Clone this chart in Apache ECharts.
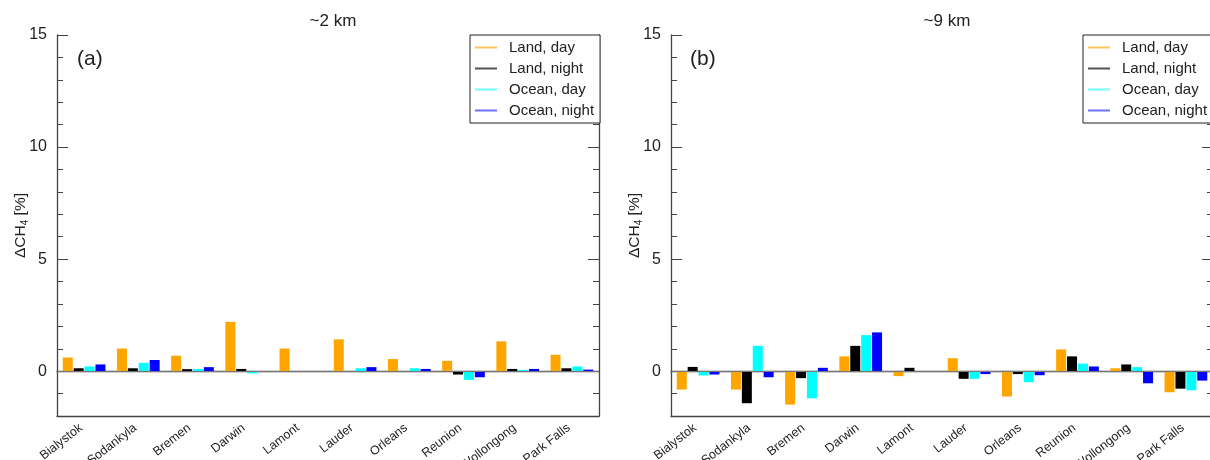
<!DOCTYPE html>
<html lang="en">
<head>
    <meta charset="UTF-8">
    <title>CH4 difference</title>
    <script type="text/javascript" src="https://cdn.jsdelivr.net/npm/echarts@6.0.0/dist/echarts.min.js"></script>
    <style>
        html, body { margin: 0; padding: 0; background: #fff; }
        #main { width: 1210px; height: 460px; }
    </style>
</head>
<body>
<div id="main"></div>
<script type="text/javascript">

    // stations on the x axis
    var stations = ['Bialystok', 'Sodankyla', 'Bremen', 'Darwin', 'Lamont', 'Lauder', 'Orleans', 'Reunion', 'Wollongong', 'Park Falls'];
    var seriesNames = ['Land, day', 'Land, night', 'Ocean, day', 'Ocean, night'];
    var yMajorTicks = [0, 5, 10, 15];

    // (a) ~2 km
    var aLandDay = [0.61, 1.01, 0.69, 2.2, 1.01, 1.42, 0.54, 0.46, 1.33, 0.73];
    var aLandNight = [0.13, 0.13, 0.09, 0.1, null, null, null, -0.15, 0.1, 0.13];
    var aOceanDay = [0.21, 0.37, 0.1, -0.1, null, 0.13, 0.13, -0.39, 0.06, 0.21];
    var aOceanNight = [0.3, 0.5, 0.18, null, null, 0.18, 0.1, -0.27, 0.1, 0.07];

    // (b) ~9 km
    var bLandDay = [-0.82, -0.82, -1.49, 0.66, -0.22, 0.58, -1.13, 0.97, 0.13, -0.94];
    var bLandNight = [0.19, -1.43, -0.31, 1.13, 0.15, -0.34, -0.13, 0.66, 0.3, -0.78];
    var bOceanDay = [-0.19, 1.13, -1.21, 1.61, null, -0.34, -0.49, 0.34, 0.18, -0.85];
    var bOceanNight = [-0.15, -0.27, 0.15, 1.73, null, -0.13, -0.18, 0.21, -0.54, -0.42];

    var barColors = ['#FFA500', '#000000', '#00FFFF', '#0000FF'];
    var legendColors = ['#FFC55A', '#555555', '#70FFFF', '#7070FF'];

    var fontName = '"Liberation Sans", Arial, Helvetica, sans-serif';
    var frameColor = '#444';

    function xAxes(gridIndex) {
        return [{
            type: 'category',
            gridIndex: gridIndex,
            data: stations,
            position: 'bottom',
            axisLine: {onZero: false, lineStyle: {color: frameColor, width: 1.3}},
            axisTick: {show: false},
            axisLabel: {
                rotate: 38,
                margin: 8,
                padding: [0, 4, 0, 0],
                fontSize: 12.5,
                color: '#222',
                fontFamily: fontName,
                interval: 0
            }
        }, {
            // top frame line
            type: 'category',
            gridIndex: gridIndex,
            data: stations,
            position: 'top',
            axisLine: {lineStyle: {color: frameColor, width: 1.3}},
            axisTick: {show: false},
            axisLabel: {show: false}
        }];
    }

    function yAxes(gridIndex, nameGap) {
        var base = {
            type: 'value',
            gridIndex: gridIndex,
            min: -2,
            max: 15,
            interval: 1,
            splitLine: {show: false}
        };
        return [
            // left, labels + minor ticks
            Object.assign({}, base, {
                position: 'left',
                name: '{a|\u0394CH}{s|4}{a| [%]}',
                nameLocation: 'middle',
                nameGap: nameGap,
                nameMoveOverlap: false,
                nameRotate: 90,
                nameTextStyle: {
                    rich: {
                        a: {fontSize: 15.5, color: '#222', fontFamily: fontName},
                        s: {fontSize: 10, color: '#222', fontFamily: fontName, padding: [8, 0, 0, 0]}
                    }
                },
                axisLine: {show: true, lineStyle: {color: frameColor, width: 1.3}},
                axisTick: {show: true, inside: true, length: 6, lineStyle: {color: frameColor}},
                axisLabel: {
                    customValues: yMajorTicks,
                    margin: 10,
                    fontSize: 16,
                    color: '#222',
                    fontFamily: fontName
                }
            }),
            // left, major ticks
            Object.assign({}, base, {
                position: 'left',
                axisLine: {show: false},
                axisTick: {show: true, inside: true, length: 11, customValues: yMajorTicks, lineStyle: {color: frameColor}},
                axisLabel: {show: false}
            }),
            // right frame, minor ticks
            Object.assign({}, base, {
                position: 'right',
                axisLine: {show: true, lineStyle: {color: frameColor, width: 1.3}},
                axisTick: {show: true, inside: true, length: 6, lineStyle: {color: frameColor}},
                axisLabel: {show: false}
            }),
            // right, major ticks
            Object.assign({}, base, {
                position: 'right',
                axisLine: {show: false},
                axisTick: {show: true, inside: true, length: 11, customValues: yMajorTicks, lineStyle: {color: frameColor}},
                axisLabel: {show: false}
            })
        ];
    }

    function barSeries(values, axisIdx, yIdx) {
        var list = [];
        for (var i = 0; i < values.length; i++) {
            var s = {
                name: seriesNames[i],
                type: 'bar',
                xAxisIndex: axisIdx,
                yAxisIndex: yIdx,
                barWidth: 10,
                barGap: '9%',
                itemStyle: {color: barColors[i]},
                data: values[i]
            };
            if (i === 0) {
                // zero line
                s.markLine = {
                    silent: true,
                    symbol: ['none', 'none'],
                    label: {show: false},
                    lineStyle: {color: '#777', type: 'solid', width: 1.2},
                    data: [{yAxis: 0}]
                };
            }
            list.push(s);
        }
        return list;
    }

    function legendData() {
        var d = [];
        for (var i = 0; i < seriesNames.length; i++) {
            d.push({name: seriesNames[i], itemStyle: {color: legendColors[i]}});
        }
        return d;
    }

    function legendAt(left) {
        return {
            orient: 'vertical',
            left: left,
            top: 35,
            padding: [5, 6, 5, 5],
            borderColor: '#222',
            borderWidth: 1,
            backgroundColor: '#fff',
            icon: 'rect',
            itemWidth: 22,
            itemHeight: 2,
            itemGap: 6,
            selectedMode: false,
            data: legendData(),
            textStyle: {fontSize: 15, lineHeight: 15, color: '#222', fontFamily: fontName, padding: [0, 0, 0, 7]}
        };
    }

    var myChart = echarts.init(document.getElementById('main'), null, {renderer: 'canvas'});

    var option = {
        animation: false,
        backgroundColor: '#fff',
        textStyle: {fontFamily: fontName},
        title: [
            {text: '~2 km', left: 328, top: 8, textAlign: 'center', textStyle: {fontSize: 17, fontWeight: 'normal', color: '#222'}},
            {text: '~9 km', left: 942, top: 8, textAlign: 'center', textStyle: {fontSize: 17, fontWeight: 'normal', color: '#222'}},
            {text: '(a)', left: 72, top: 44, textStyle: {fontSize: 21, fontWeight: 'normal', color: '#222'}},
            {text: '(b)', left: 685, top: 44, textStyle: {fontSize: 21, fontWeight: 'normal', color: '#222'}}
        ],
        legend: [legendAt(470), legendAt(1083)],
        grid: [
            {left: 57, top: 35, width: 542, height: 381, outerBoundsMode: 'none', containLabel: false},
            {left: 671, top: 35, width: 542, height: 381, outerBoundsMode: 'none', containLabel: false}
        ],
        xAxis: xAxes(0).concat(xAxes(1)),
        yAxis: yAxes(0, 27).concat(yAxes(1, 27)),
        series: barSeries([aLandDay, aLandNight, aOceanDay, aOceanNight], 0, 0)
            .concat(barSeries([bLandDay, bLandNight, bOceanDay, bOceanNight], 2, 4))
    };

    myChart.setOption(option);

</script>
</body>
</html>
